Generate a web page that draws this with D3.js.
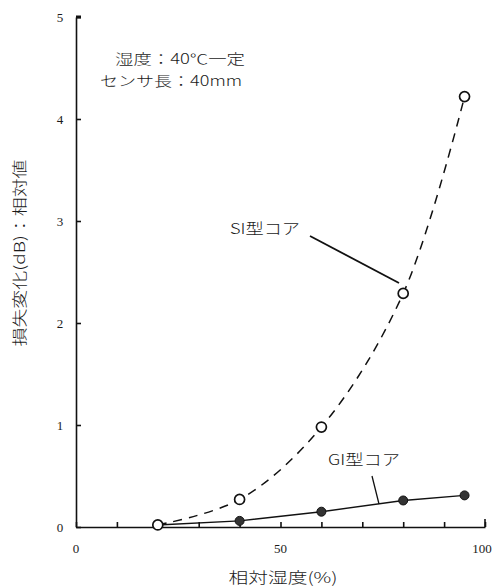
<!DOCTYPE html>
<meta charset="utf-8">
<style>
body { margin: 0; background: #fff; }
text { font-family: "Liberation Serif", "Noto Sans CJK JP", serif; fill: #1a1a1a; }
.jp { font-family: "Noto Sans CJK JP", sans-serif; font-weight: 300; }
</style>
<svg width="496" height="588"></svg>
<script src="https://cdn.jsdelivr.net/npm/d3@7/dist/d3.min.js"></script>
<script>
// data
var humidity = [20, 40, 60, 80, 95];
var siLoss = [0.02, 0.27, 0.98, 2.29, 4.22];
var giLoss = [0.02, 0.06, 0.15, 0.26, 0.31];
var xTicks = [0, 50, 100];
var yTicks = [0, 1, 2, 3, 4, 5];

var svg = d3.select("svg"),
    margin = {top: 17, right: 11, bottom: 61, left: 76},
    width = +svg.attr("width"),
    height = +svg.attr("height");

var x = d3.scaleLinear().domain([0, 100]).range([margin.left, width - margin.right]);
var y = d3.scaleLinear().domain([0, 5]).range([height - margin.bottom, margin.top]);

function ink(g) {
  g.selectAll("path,line").attr("stroke", "#111").attr("stroke-width", 1.6);
}

// axes, ticks point inward
svg.append("g")
    .attr("transform", "translate(0," + y(0) + ")")
    .call(d3.axisTop(x).tickValues(d3.range(0, 101, 10)).tickSize(5).tickSizeOuter(0).tickFormat(""))
    .call(ink);
svg.append("g")
    .attr("transform", "translate(" + x(0) + ",0)")
    .call(d3.axisRight(y).tickValues(yTicks).tickSize(5).tickSizeOuter(0).tickFormat(""))
    .call(ink);
svg.append("path")
    .attr("d", "M" + x(100) + "," + y(0) + "V" + (y(0) - 8))
    .attr("stroke", "#111").attr("stroke-width", 1.6);
svg.append("path")
    .attr("d", "M" + x(0) + "," + y(5) + "H" + (x(0) + 5))
    .attr("stroke", "#111").attr("stroke-width", 3);

// tick labels
svg.append("g").selectAll("text")
  .data(yTicks).enter().append("text")
    .attr("x", 60).attr("y", function(d) { return y(d) + 5; })
    .attr("text-anchor", "middle").style("font-size", "13px")
    .text(function(d) { return d; });
svg.append("g").selectAll("text")
  .data(xTicks).enter().append("text")
    .attr("x", function(d) { return x(d) + (d == 100 ? -3 : 0); }).attr("y", 553)
    .attr("text-anchor", "middle").style("font-size", "13px")
    .text(function(d) { return d; });

// axis titles
svg.append("text")
    .attr("class", "jp")
    .attr("x", 283).attr("y", 583)
    .attr("text-anchor", "middle").style("font-size", "15px")
    .attr("textLength", 109).attr("lengthAdjust", "spacingAndGlyphs")
    .text("相対湿度(%)");
svg.append("text")
    .attr("class", "jp")
    .attr("transform", "translate(25,253) rotate(-90)")
    .attr("text-anchor", "middle").style("font-size", "15px")
    .attr("textLength", 187).attr("lengthAdjust", "spacingAndGlyphs")
    .text("損失変化(dB)：相対値");

// SI core: dashed smooth curve, open circles
svg.append("path")
    .datum(humidity.map(function(h, i) { return [h, siLoss[i]]; }))
    .attr("fill", "none").attr("stroke", "#111").attr("stroke-width", 1.5)
    .attr("stroke-dasharray", "9,7")
    .attr("d", d3.line()
      .x(function(d) { return x(d[0]); })
      .y(function(d) { return y(d[1]); })
      .curve(d3.curveCatmullRom.alpha(0.5)));

// GI core: solid line, filled circles
svg.append("path")
    .datum(humidity.map(function(h, i) { return [h, giLoss[i]]; }))
    .attr("fill", "none").attr("stroke", "#111").attr("stroke-width", 1.4)
    .attr("d", d3.line()
      .x(function(d) { return x(d[0]); })
      .y(function(d) { return y(d[1]); }));

svg.append("g").selectAll("circle")
  .data(humidity).enter().append("circle")
    .attr("cx", function(d) { return x(d); })
    .attr("cy", function(d, i) { return y(giLoss[i]); })
    .attr("r", 4.5).attr("fill", "#333").attr("stroke", "#111");

svg.append("g").selectAll("circle")
  .data(humidity).enter().append("circle")
    .attr("cx", function(d) { return x(d); })
    .attr("cy", function(d, i) { return y(siLoss[i]); })
    .attr("r", 5).attr("fill", "#fff").attr("stroke", "#111").attr("stroke-width", 1.7);

// notes
svg.append("text").attr("class", "jp")
    .attr("x", 115).attr("y", 64).style("font-size", "14px")
    .attr("textLength", 130).attr("lengthAdjust", "spacingAndGlyphs")
    .text("湿度：40℃一定");
svg.append("text").attr("class", "jp")
    .attr("x", 100).attr("y", 86).style("font-size", "14px")
    .attr("textLength", 142).attr("lengthAdjust", "spacingAndGlyphs")
    .text("センサ長：40mm");

svg.append("text").attr("class", "jp")
    .attr("x", 230).attr("y", 234).style("font-size", "15px")
    .attr("textLength", 70).attr("lengthAdjust", "spacingAndGlyphs")
    .text("SI型コア");
svg.append("path")
    .attr("d", "M310,236L399,283")
    .attr("stroke", "#111").attr("stroke-width", 1.8);

svg.append("text").attr("class", "jp")
    .attr("x", 328).attr("y", 465).style("font-size", "15px")
    .attr("textLength", 72).attr("lengthAdjust", "spacingAndGlyphs")
    .text("GI型コア");
svg.append("path")
    .attr("d", "M372,476L379,504")
    .attr("stroke", "#111").attr("stroke-width", 1.3);
</script>
